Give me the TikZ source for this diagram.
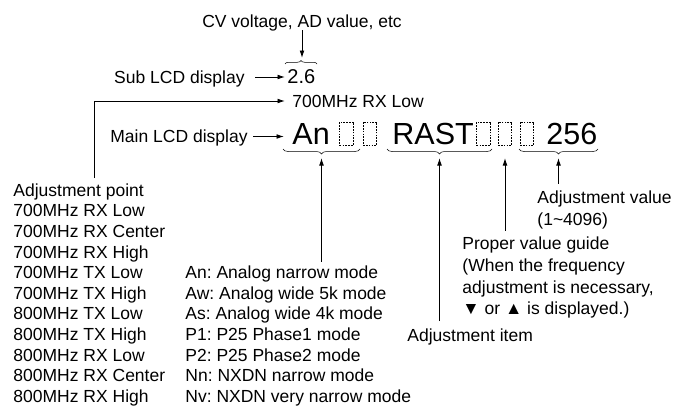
\documentclass[tikz,border=0pt]{standalone}
\usepackage{fontspec}
\setmainfont{Liberation Sans}
\usetikzlibrary{arrows.meta,positioning,decorations.pathreplacing}
\frenchspacing
\newcommand\lblfont{\fontsize{17.5}{20.6}\selectfont}
\newcommand\notefont{\fontsize{17.5}{21.7}\selectfont}
\newcommand\lcdfont{\fontsize{30.5}{36}\selectfont}
\newcommand\subfont{\fontsize{20}{24}\selectfont}

\begin{document}
\begin{tikzpicture}[x=1pt,y=-1pt,
  >={Latex[length=7.5pt,width=4.8pt]}, line width=0.9pt,
  lbl/.style={font=\lblfont,inner sep=0pt,text height=12.5pt,text depth=0pt},
  note/.style={font=\notefont,inner sep=0pt,align=left,anchor=north west},
  list/.style={note,font=\lblfont},
  lcd/.style={font=\lcdfont,inner sep=0pt,text height=21.8pt,text depth=0pt,anchor=west},
  seg/.style={draw,line width=0.6pt,dash pattern=on 1.6pt off 1.2pt,minimum width=13.5pt,minimum height=23pt,inner sep=0pt},
  brc/.style={decorate,decoration={brace,mirror,amplitude=5pt},line width=0.5pt}]
  \useasboundingbox (0,0) rectangle (689,407);

  % sub display
  \node[lbl,anchor=base] (cv) at (302,27) {CV voltage, AD value, etc};
  \node[lbl,anchor=east] (sublbl) at (245,77) {Sub LCD display};
  \node[font=\subfont,inner sep=0pt,text height=14.3pt,text depth=0pt,anchor=west] (sub) at (287,76.5) {2.6};
  \draw[decorate,decoration={brace,amplitude=3.5pt},line width=0.5pt] (285,64) -- (317,64);
  \coordinate (subtip) at (301,58);
  \draw[->,shorten <=3pt] (cv) -- (cv |- subtip);
  \draw[->,shorten <=10pt,shorten >=2pt] (sublbl.east) -- (sublbl.east -| sub.west);

  % main display
  \node[lbl,anchor=west] (rxlow) at (292,101) {700MHz RX Low};
  \node[lbl,anchor=east] (mainlbl) at (248,136.5) {Main LCD display};
  \node[lcd] (an) at (292,133.5) {An};
  \node[seg] (s1) at (346.5,133.5) {};
  \node[seg] (s2) at (370,133.5) {};
  \node[lcd] (rast) at (392,133.5) {RAST};
  \node[seg] (s3) at (483.5,133.5) {};
  \node[seg] (s4) at (505,133.5) {};
  \node[seg] (s5) at (527,133.5) {};
  \node[lcd] (val) at (546,133.5) {256};
  \draw[->,shorten <=5pt,shorten >=8pt] (mainlbl.east) -- (mainlbl.east -| an.west);

  \draw[brc] (283,149) -- (360,149);
  \draw[brc] (387,149) -- (492,149);
  \draw[brc] (519,149) -- (598,149);
  \coordinate (modetip) at (321.5,158);
  \coordinate (itemtip) at (439.5,158);
  \coordinate (guidetip) at (505,158);
  \coordinate (valtip) at (558.5,158);
  \coordinate (bend) at (94,101);

  % legends
  \node[list] (points) at (13,183.2) {Adjustment point\\700MHz RX Low\\700MHz RX Center\\700MHz RX High\\700MHz TX Low\\700MHz TX High\\800MHz TX Low\\800MHz TX High\\800MHz RX Low\\800MHz RX Center\\800MHz RX High};
  \node[list] (modes) at (185,265.6) {An: Analog narrow mode\\Aw: Analog wide 5k mode\\As: Analog wide 4k mode\\P1: P25 Phase1 mode\\P2: P25 Phase2 mode\\Nn: NXDN narrow mode\\Nv: NXDN very narrow mode};
  \node[lbl,anchor=base west] (item) at (407,341) {Adjustment item};
  \node[note] (guide) at (462,236.5) {Proper value guide\\(When the frequency\\adjustment is necessary,\\▼ or ▲ is displayed.)};
  \node[note] (valnote) at (537,190.7) {Adjustment value\\(1\textasciitilde 4096)};

  \draw[->,shorten <=5pt,shorten >=7pt] (points.north -| bend) -- (bend) -- (rxlow.west);
  \draw[->,shorten <=4pt] (modes.north -| modetip) -- (modetip);
  \draw[->,shorten <=7pt] (item.north -| itemtip) -- (itemtip);
  \draw[->,shorten <=6pt] (guide.north -| guidetip) -- (guidetip);
  \draw[->,shorten <=7pt] (valnote.north -| valtip) -- (valtip);
\end{tikzpicture}
\end{document}
